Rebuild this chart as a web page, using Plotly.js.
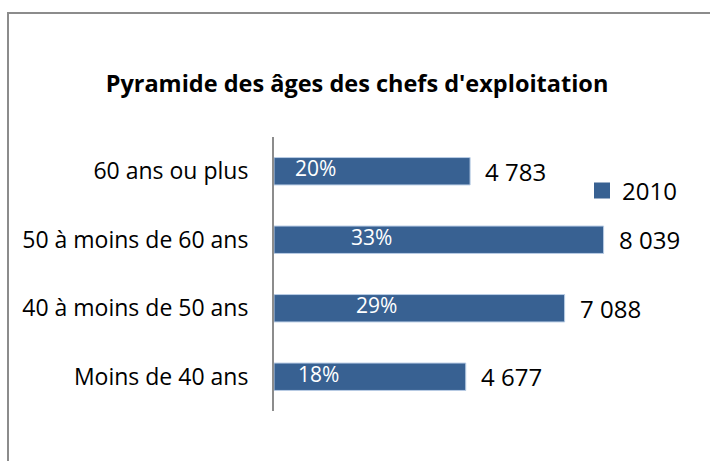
<!DOCTYPE html>
<html>
<head>
<meta charset="utf-8">
<script src="https://cdn.plot.ly/plotly-3.0.1.min.js"></script>
<style>
  html, body { margin: 0; padding: 0; background: #fff; }
  #chart { width: 710px; height: 461px; }
</style>
</head>
<body>
<div id="chart"></div>
<script>
// ---- data ----
const categories = ["60 ans ou plus", "50 à moins de 60 ans", "40 à moins de 50 ans", "Moins de 40 ans"];
const values2010 = [4783, 8039, 7088, 4677];
const valueLabels = ["4 783", "8 039", "7 088", "4 677"];
const percentLabels = ["20%", "33%", "29%", "18%"];
const seriesName = "2010";
const chartTitle = "Pyramide des âges des chefs d'exploitation";

// ---- layout geometry (pixels) ----
const W = 710, H = 461;
const M = { l: 274, r: 26, t: 137, b: 50 };
const plotW = W - M.l - M.r, plotH = H - M.t - M.b;
const px2x = p => (p - M.l) / plotW;
const py2y = p => (H - M.b - p) / plotH;
const pctShift = [41, 97, 102, 44];   // label placement inside bars (px from axis)

const FONT = "Open Sans, Noto Sans, sans-serif";
const barColor = "#386192";

const barTrace = {
  type: "bar",
  orientation: "h",
  name: seriesName,
  y: categories,
  x: values2010,
  width: 0.4,
  marker: { color: barColor, line: { color: "#b9cde5", width: 1 } },
  hoverinfo: "none",
  showlegend: false
};

// legend entry only (larger square key like the original)
const legendTrace = {
  type: "scatter",
  mode: "markers",
  name: seriesName,
  x: [null], y: [null],
  marker: { symbol: "square", size: 16, color: barColor },
  hoverinfo: "none",
  showlegend: true
};

const annotations = [];
categories.forEach((c, i) => {
  annotations.push({
    x: values2010[i], y: c, xref: "x", yref: "y",
    text: valueLabels[i], showarrow: false,
    xanchor: "left", yanchor: "middle", xshift: 13,
    font: { family: FONT, size: 24, color: "#000" }
  });
  annotations.push({
    x: 0, y: c, xref: "x", yref: "y",
    text: percentLabels[i], showarrow: false,
    xanchor: "center", yanchor: "middle", xshift: pctShift[i], yshift: 3,
    font: { family: FONT, size: 21, color: "#fff" }
  });
});

const layout = {
  width: W, height: H,
  margin: M,
  paper_bgcolor: "#fff", plot_bgcolor: "#fff",
  title: {
    text: "<b>" + chartTitle + "</b>",
    xref: "container", yref: "container",
    x: 357 / W, y: 1 - 84 / H, xanchor: "center", yanchor: "middle",
    font: { family: FONT, size: 23.5, color: "#000" }
  },
  xaxis: {
    range: [0, 10000], visible: false, fixedrange: true
  },
  yaxis: {
    type: "category",
    range: [3.5, -0.5],
    showline: true, linecolor: "#8c8c8c", linewidth: 2,
    showgrid: false, zeroline: false, ticks: "",
    ticklabelstandoff: 19,
    tickfont: { family: FONT, size: 23, color: "#000" },
    fixedrange: true
  },
  showlegend: true,
  legend: {
    x: px2x(582), y: py2y(191), xanchor: "left", yanchor: "middle",
    font: { family: FONT, size: 24, color: "#000" },
    itemwidth: 30, bgcolor: "rgba(0,0,0,0)"
  },
  annotations: annotations,
  shapes: [{
    type: "path", xref: "paper", yref: "paper",
    path: "M " + px2x(8) + " " + py2y(H + 20) + " L " + px2x(8) + " " + py2y(13) +
          " L " + px2x(W + 20) + " " + py2y(13),
    line: { color: "#8c8c8c", width: 2 }, layer: "below"
  }],
  bargap: 0.6
};

Plotly.newPlot("chart", [barTrace, legendTrace], layout, { displayModeBar: false, staticPlot: true });
</script>
</body>
</html>
